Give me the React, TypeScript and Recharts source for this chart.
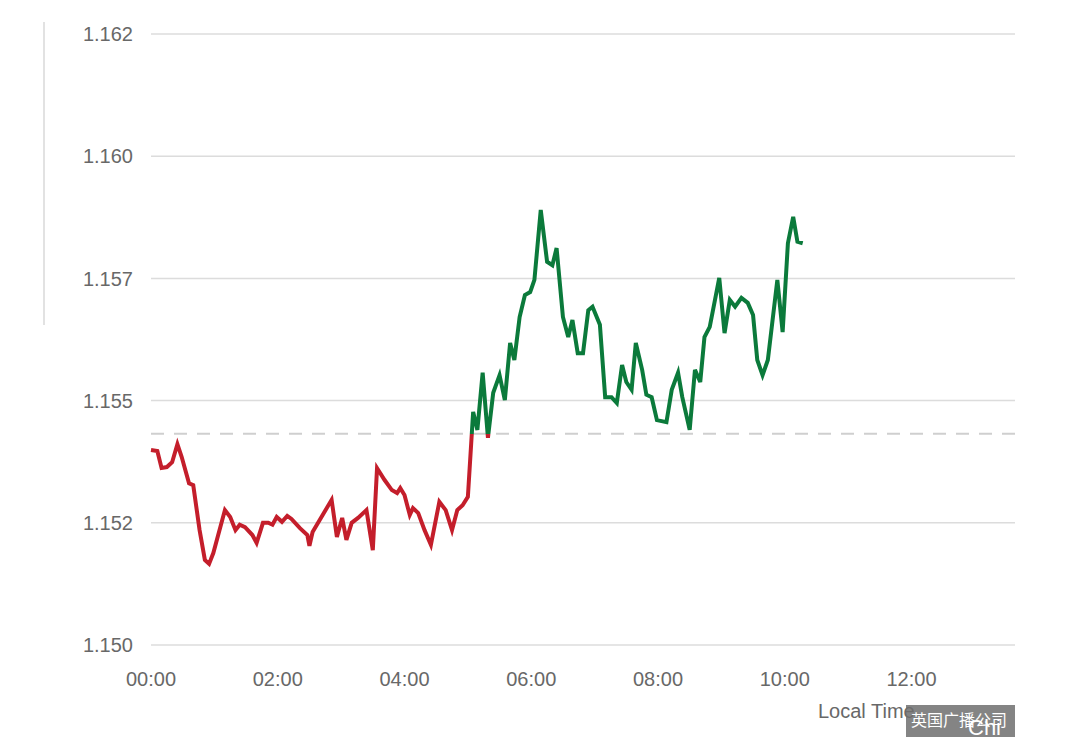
import { LineChart, Line, XAxis, YAxis, CartesianGrid, ReferenceLine } from "recharts";

// minutes since 00:00 (local time)
const minutes = [
  0, 6, 10, 15, 20, 25, 29, 36, 40, 46, 51, 55, 59, 70, 75, 80, 84, 89, 96, 100,
  106, 111, 115, 119, 124, 129, 133, 141, 148, 150, 153, 171, 176, 181, 185, 190, 196, 204, 210, 214,
  221, 228, 233, 236, 240, 245, 248, 253, 259, 265, 273, 279, 285, 290, 295, 300, 305, 309, 314, 319,
  324, 330, 335, 340, 344, 349, 354, 359, 363, 369, 375, 380, 384, 390, 395, 399, 404, 409, 414, 418,
  425, 430, 436, 441, 446, 450, 455, 459, 465, 469, 474, 479, 488, 493, 499, 503, 510, 515, 520, 524,
  529, 538, 543, 548, 553, 559, 565, 570, 574, 579, 584, 593, 598, 603, 608, 612, 617,
];

// EUR/USD rate
const rates = [
  1.15399, 1.15397, 1.15362, 1.15364, 1.15374, 1.15411, 1.15385, 1.15331, 1.15327, 1.15235,
  1.15174, 1.15166, 1.15188, 1.15276, 1.15262, 1.15235, 1.15246, 1.15241, 1.15225, 1.15209,
  1.1525, 1.1525, 1.15246, 1.15262, 1.15252, 1.15264, 1.15258, 1.15239, 1.15225, 1.15203,
  1.15231, 1.15297, 1.15221, 1.1526, 1.15215, 1.1525, 1.1526, 1.15276, 1.15194, 1.15362,
  1.15338, 1.15317, 1.15311, 1.15321, 1.15307, 1.15266, 1.1528, 1.1527, 1.15235, 1.15205,
  1.15293, 1.15276, 1.15235, 1.15276, 1.15286, 1.15303, 1.15477, 1.1544, 1.15557, 1.15424,
  1.15516, 1.15552, 1.15501, 1.15618, 1.15583, 1.15671, 1.15716, 1.15722, 1.15747, 1.1589,
  1.15784, 1.15777, 1.15812, 1.15671, 1.1563, 1.15665, 1.15597, 1.15597, 1.15685, 1.15692,
  1.15655, 1.15507, 1.15507, 1.15495, 1.15573, 1.15538, 1.15522, 1.15618, 1.15563, 1.15512,
  1.15507, 1.1546, 1.15456, 1.15522, 1.15557, 1.15507, 1.1544, 1.15563, 1.15538, 1.1563,
  1.15651, 1.15751, 1.15638, 1.15706, 1.15692, 1.1571, 1.157, 1.15675, 1.15583, 1.15552,
  1.15583, 1.15747, 1.1564, 1.15822, 1.15876, 1.15825, 1.15822,
];

const previousClose = 1.15432;

const yTicks = [1.15, 1.1525, 1.155, 1.1575, 1.16, 1.1625];
const yTickLabels = ["1.150", "1.152", "1.155", "1.157", "1.160", "1.162"];
const xTicks = [0, 120, 240, 360, 480, 600, 720];
const xTickLabels = ["00:00", "02:00", "04:00", "06:00", "08:00", "10:00", "12:00"];

const RED = "#c41e2b";
const GREEN = "#0b7a3b";
const FONT = '"Liberation Sans", Arial, sans-serif';

const data = minutes.map((m, i) => ({ t: m, rate: rates[i] }));

const maxRate = Math.max(...rates);
const minRate = Math.min(...rates);
const splitAt = (maxRate - previousClose) / (maxRate - minRate);

export default function App() {
  return (
    <div style={{ position: "absolute", left: 0, top: 0, width: 1080, height: 742, background: "#fff", fontFamily: FONT }}>
      <div style={{ position: "absolute", left: 43, top: 22, width: 2, height: 303, background: "#e2e2e2" }} />
      <LineChart width={1080} height={742} data={data} margin={{ top: 34, right: 65, bottom: 57, left: 0 }}>
        <defs>
          <linearGradient id="splitColor" x1="0" y1="0" x2="0" y2="1">
            <stop offset={splitAt} stopColor={GREEN} />
            <stop offset={splitAt} stopColor={RED} />
          </linearGradient>
        </defs>
        <CartesianGrid vertical={false} stroke="#dcdcdc" strokeWidth={1.5} />
        <XAxis
          dataKey="t"
          type="number"
          domain={[0, 818]}
          ticks={xTicks}
          tickFormatter={(v: number) => xTickLabels[xTicks.indexOf(v)]}
          axisLine={false}
          tickLine={false}
          tickSize={0}
          tickMargin={27}
          height={40}
          interval={0}
          tick={{ fill: "#686868", fontSize: 20, fontFamily: FONT }}
        />
        <YAxis
          type="number"
          domain={[1.15, 1.1625]}
          ticks={yTicks}
          tickFormatter={(v: number) => yTickLabels[yTicks.indexOf(v)]}
          axisLine={false}
          tickLine={false}
          tickSize={0}
          tickMargin={18}
          width={151}
          interval={0}
          tick={{ fill: "#686868", fontSize: 20, fontFamily: FONT }}
        />
        <ReferenceLine y={previousClose} stroke="#cfcfcf" strokeWidth={2} strokeDasharray="13 10" />
        <Line
          type="linear"
          dataKey="rate"
          stroke="url(#splitColor)"
          strokeWidth={4}
          dot={false}
          isAnimationActive={false}
        />
      </LineChart>
      <div style={{ position: "absolute", left: 818, top: 700, fontSize: 20, lineHeight: "22px", color: "#686868" }}>
        Local Time
      </div>
      <div
        style={{
          position: "absolute",
          left: 906,
          top: 705,
          width: 109,
          height: 32,
          background: "rgba(110,110,110,0.85)",
          overflow: "hidden",
        }}
      >
        <div style={{ position: "absolute", left: 5, top: 5, fontSize: 16, lineHeight: "18px", color: "#fff", fontFamily: '"Noto Sans CJK SC", sans-serif' }}>
          英国广播公司
        </div>
        <div style={{ position: "absolute", left: 62, top: 12, fontSize: 22, lineHeight: "22px", color: "#fff" }}>
          Chi n
        </div>
      </div>
    </div>
  );
}
